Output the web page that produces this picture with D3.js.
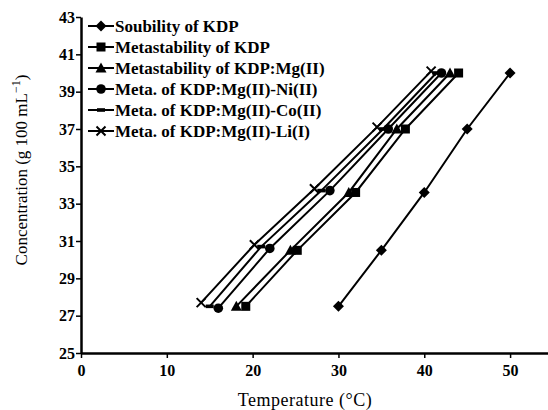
<!DOCTYPE html>
<html>
<head>
<meta charset="utf-8">
<script src="https://cdn.jsdelivr.net/npm/d3@7"></script>
<style>
  body { margin: 0; background: #fff; }
  text { font-family: "Liberation Serif", "Times New Roman", serif; fill: #000; }
</style>
</head>
<body>
<div class="chart-container"></div>
<script>
// temperature (°C) / concentration (g 100 mL^-1)
const seriesNames = [
  "Soubility of KDP",
  "Metastability of KDP",
  "Metastability of KDP:Mg(II)",
  "Meta. of KDP:Mg(II)-Ni(II)",
  "Meta. of KDP:Mg(II)-Co(II)",
  "Meta. of KDP:Mg(II)-Li(I)",
];
const markers = ["diamond", "square", "triangle", "circle", "dash", "cross"];

const solubilityT = [30, 35, 40, 45, 50];
const solubilityC = [27.5, 30.5, 33.6, 37.0, 40.0];
const metaKdpT = [19.2, 25.2, 32.0, 37.8, 44.0];
const metaKdpC = [27.5, 30.5, 33.6, 37.0, 40.0];
const metaMgT = [18.1, 24.4, 31.2, 36.8, 43.0];
const metaMgC = [27.5, 30.5, 33.6, 37.0, 40.0];
const metaNiT = [16.0, 22.0, 29.0, 35.8, 42.0];
const metaNiC = [27.4, 30.6, 33.7, 37.0, 40.0];
const metaCoT = [15.0, 21.0, 28.0, 35.2, 41.4];
const metaCoC = [27.5, 30.7, 33.7, 37.0, 40.0];
const metaLiT = [14.0, 20.2, 27.2, 34.5, 40.8];
const metaLiC = [27.7, 30.8, 33.8, 37.1, 40.1];

const xTicks = [0, 10, 20, 30, 40, 50];
const yTicks = [25, 27, 29, 31, 33, 35, 37, 39, 41, 43];

const seriesT = [solubilityT, metaKdpT, metaMgT, metaNiT, metaCoT, metaLiT];
const seriesC = [solubilityC, metaKdpC, metaMgC, metaNiC, metaCoC, metaLiC];

const width = 548, height = 410;
const margin = { left: 81, top: 17, right: 0, bottom: 57 };

const svg = d3.select(".chart-container")
  .append("svg")
  .attr("width", width)
  .attr("height", height);

const x = d3.scaleLinear().domain([0, 55]).range([margin.left, margin.left + 472]);
const y = d3.scaleLinear().domain([25, 43]).range([height - margin.bottom, margin.top]);

// draw a marker of the given kind centred at 0,0
function drawMarker(g, kind) {
  if (kind === "diamond") {
    g.append("path").attr("d", "M0,-5.5L5.5,0L0,5.5L-5.5,0Z").attr("fill", "#000");
  } else if (kind === "square") {
    g.append("rect").attr("x", -4.5).attr("y", -4.5).attr("width", 9).attr("height", 9).attr("fill", "#000");
  } else if (kind === "triangle") {
    g.append("path").attr("d", "M0,-5.5L5.5,4.5L-5.5,4.5Z").attr("fill", "#000");
  } else if (kind === "circle") {
    g.append("circle").attr("r", 4.8).attr("fill", "#000");
  } else if (kind === "dash") {
    g.append("rect").attr("x", -4).attr("y", -1.8).attr("width", 8).attr("height", 3.6).attr("fill", "#000");
  } else if (kind === "cross") {
    g.append("path").attr("d", "M-4.5,-4.5L4.5,4.5M-4.5,4.5L4.5,-4.5")
      .attr("stroke", "#000").attr("stroke-width", 2);
  }
}

const line = d3.line().x(d => x(d[0])).y(d => y(d[1]));

seriesT.forEach((ts, i) => {
  const pts = ts.map((t, j) => [t, seriesC[i][j]]);
  svg.append("path")
    .datum(pts)
    .attr("d", line)
    .attr("fill", "none")
    .attr("stroke", "#000")
    .attr("stroke-width", 2);
  pts.forEach(p => {
    const g = svg.append("g").attr("transform", "translate(" + x(p[0]) + "," + y(p[1]) + ")");
    drawMarker(g, markers[i]);
  });
});

// axes
const xAxis = svg.append("g")
  .attr("transform", "translate(0," + y(25) + ")")
  .call(d3.axisBottom(x).tickValues(xTicks).tickSize(5).tickSizeOuter(0));
const yAxis = svg.append("g")
  .attr("transform", "translate(" + x(0) + ",0)")
  .call(d3.axisLeft(y).tickValues(yTicks).tickSize(5).tickSizeOuter(0));

[xAxis, yAxis].forEach(a => {
  a.select(".domain").attr("stroke", "#000").attr("stroke-width", 2.5);
  a.selectAll(".tick line").attr("stroke", "#000").attr("stroke-width", 1.5);
  a.selectAll(".tick text")
    .style("font-family", "'Liberation Serif', serif")
    .style("font-size", "16px")
    .style("font-weight", "bold")
    .attr("fill", "#000");
});
xAxis.selectAll(".tick text").attr("dy", "0.95em");
yAxis.selectAll(".tick text").attr("x", -6);

// axis titles
svg.append("text")
  .attr("x", 305)
  .attr("y", 406)
  .attr("text-anchor", "middle")
  .style("font-size", "18px")
  .style("letter-spacing", "0.5px")
  .text("Temperature (°C)");

const yTitle = svg.append("text")
  .attr("transform", "translate(27,170) rotate(-90)")
  .attr("text-anchor", "middle")
  .style("font-size", "17px");
yTitle.append("tspan").text("Concentration (g 100 mL");
yTitle.append("tspan").attr("dy", -7).style("font-size", "12px").text("−1");
yTitle.append("tspan").attr("dy", 7).text(")");

// legend
const legend = svg.append("g").attr("class", "legend");
seriesNames.forEach((name, i) => {
  const ly = 26 + i * 21;
  const g = legend.append("g").attr("transform", "translate(0," + ly + ")");
  g.append("line")
    .attr("x1", 88).attr("x2", 114)
    .attr("y1", 0).attr("y2", 0)
    .attr("stroke", "#000").attr("stroke-width", 2);
  drawMarker(g.append("g").attr("transform", "translate(101,0)"), markers[i]);
  g.append("text")
    .attr("x", 115)
    .attr("y", 0)
    .attr("dy", "0.35em")
    .style("font-size", "17px")
    .style("font-weight", "bold")
    .text(name);
});
</script>
</body>
</html>
